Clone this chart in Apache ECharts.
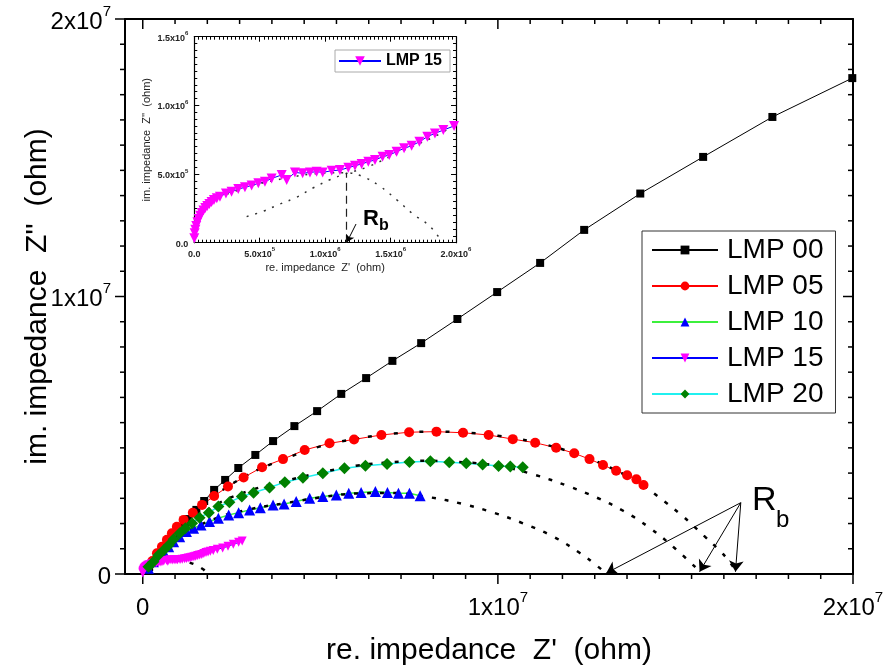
<!DOCTYPE html>
<html>
<head>
<meta charset="utf-8">
<script src="https://cdn.jsdelivr.net/npm/echarts@6/dist/echarts.min.js"></script>
<style>
  html, body { margin: 0; padding: 0; background: #fff; }
  #chart { width: 883px; height: 670px; }
</style>
</head>
<body>
<div id="chart"></div>
<script>
var FONT = '"Liberation Sans", Arial, sans-serif'

// all values in 10^6 ohm, pairs are [Z', Z'']
var lmp00 = [
  [0.07, 0.11], [0.18, 0.25], [0.32, 0.47], [0.49, 0.76], [0.69, 1.05], [0.89, 1.37],
  [1.08, 1.69], [1.28, 1.98], [1.51, 2.31], [1.73, 2.63], [2.01, 3.03], [2.32, 3.39],
  [2.69, 3.82], [3.17, 4.29], [3.67, 4.79], [4.27, 5.33], [4.91, 5.87], [5.59, 6.49],
  [6.29, 7.06], [7.03, 7.68], [7.84, 8.32], [8.86, 9.19], [9.98, 10.16], [11.19, 11.21],
  [12.43, 12.40], [14.01, 13.71], [15.78, 15.03], [17.73, 16.47], [19.98, 17.87]
]
var lmp05 = [
  [0.13, 0.22], [0.27, 0.47], [0.40, 0.75], [0.54, 0.98], [0.68, 1.23], [0.82, 1.47],
  [0.96, 1.70], [1.15, 1.95], [1.41, 2.21], [1.67, 2.49], [2.01, 2.81], [2.40, 3.15],
  [2.84, 3.48], [3.36, 3.85], [3.95, 4.14], [4.56, 4.47], [5.26, 4.71], [5.95, 4.85],
  [6.72, 5.01], [7.50, 5.11], [8.27, 5.13], [9.02, 5.09], [9.74, 5.01], [10.42, 4.86],
  [11.05, 4.73], [11.64, 4.55], [12.15, 4.35], [12.58, 4.14], [12.96, 3.93], [13.33, 3.72],
  [13.64, 3.56], [13.90, 3.41], [14.10, 3.21]
]
var lmp10 = [
  [0.16, 0.21], [0.30, 0.44], [0.44, 0.62], [0.59, 0.80], [0.73, 0.98], [0.87, 1.16],
  [1.04, 1.34], [1.23, 1.53], [1.43, 1.65], [1.64, 1.77], [1.88, 1.89], [2.13, 2.01],
  [2.42, 2.13], [2.70, 2.21], [3.01, 2.31], [3.31, 2.39], [3.67, 2.49], [3.98, 2.52],
  [4.32, 2.61], [4.70, 2.73], [5.07, 2.79], [5.45, 2.85], [5.80, 2.91], [6.15, 2.94],
  [6.55, 2.97], [6.89, 2.94], [7.20, 2.91], [7.51, 2.91], [7.81, 2.82]
]
var lmp15 = [
  [0.000, 0.032], [0.003, 0.068], [0.008, 0.095], [0.015, 0.122], [0.024, 0.148],
  [0.034, 0.172], [0.045, 0.196], [0.057, 0.216], [0.070, 0.235], [0.084, 0.252],
  [0.099, 0.268], [0.115, 0.282], [0.132, 0.297], [0.150, 0.311], [0.172, 0.323],
  [0.196, 0.335], [0.242, 0.359], [0.285, 0.371], [0.336, 0.391], [0.387, 0.403],
  [0.438, 0.417], [0.489, 0.432], [0.540, 0.444], [0.591, 0.468], [0.668, 0.493],
  [0.706, 0.456], [0.769, 0.512], [0.828, 0.505], [0.884, 0.512], [0.935, 0.517],
  [0.981, 0.512], [1.050, 0.524], [1.113, 0.529], [1.177, 0.546], [1.228, 0.561],
  [1.279, 0.573], [1.330, 0.590], [1.381, 0.602], [1.439, 0.626], [1.490, 0.638],
  [1.546, 0.663], [1.603, 0.687], [1.661, 0.706], [1.720, 0.735], [1.781, 0.772],
  [1.839, 0.796], [1.903, 0.820], [1.985, 0.850]
]
// the part of LMP 15 that only shows in the big plot
var lmp15Tail = [[2.10, 0.89], [2.25, 0.94], [2.40, 1.00], [2.55, 1.07], [2.70, 1.14], [2.80, 1.19]]
var lmp20 = [
  [0.16, 0.26], [0.30, 0.44], [0.44, 0.68], [0.59, 0.86], [0.73, 1.04], [0.87, 1.25],
  [1.04, 1.47], [1.20, 1.65], [1.39, 1.83], [1.60, 2.03], [1.86, 2.21], [2.13, 2.43],
  [2.44, 2.59], [2.79, 2.79], [3.12, 2.93], [3.57, 3.12], [4.00, 3.31], [4.51, 3.47],
  [5.07, 3.63], [5.68, 3.81], [6.27, 3.90], [6.88, 3.96], [7.51, 4.04], [8.10, 4.06],
  [8.63, 4.03], [9.11, 3.99], [9.57, 3.95], [10.02, 3.89], [10.35, 3.87], [10.70, 3.85]
]

// dotted fit arcs
var fit05 = [
  [0, 0], [0.4, 0.75], [1.0, 1.75], [2.0, 2.8], [3.0, 3.6], [4.0, 4.15], [5.0, 4.6],
  [6.0, 4.87], [7.0, 5.05], [8.0, 5.13], [9.0, 5.1], [10.0, 4.98], [11.0, 4.76],
  [12.0, 4.42], [13.0, 3.93], [14.0, 3.27], [14.5, 2.8], [15.2, 2.09], [15.8, 1.38],
  [16.2, 0.9], [16.5, 0.48], [16.7, 0.1]
]
var fit20 = [
  [0, 0], [0.4, 0.65], [1.0, 1.45], [2.0, 2.45], [3.0, 3.0], [4.0, 3.35], [5.0, 3.65],
  [6.0, 3.9], [7.0, 4.03], [8.0, 4.08], [9.0, 4.03], [10.0, 3.9], [11.05, 3.57],
  [11.95, 3.18], [12.77, 2.76], [13.54, 2.27], [14.29, 1.65], [14.99, 0.92], [15.6, 0.2]
]
var fit10 = [
  [0, 0], [0.4, 0.6], [1.0, 1.3], [2.0, 1.98], [3.0, 2.33], [4.0, 2.55], [5.0, 2.76],
  [6.0, 2.9], [7.0, 2.92], [8.1, 2.76], [9.02, 2.52], [9.88, 2.21], [10.72, 1.82],
  [11.57, 1.34], [12.32, 0.75], [12.7, 0.39], [13.02, 0.05]
]
var fit15 = [[0, 0], [0.2, 0.3], [0.5, 0.45], [0.87, 0.5], [1.32, 0.41], [1.7, 0.17], [1.82, 0]]

// inset fits
var insetArc1 = [
  [0, 0], [0.05, 0.2], [0.15, 0.31], [0.3, 0.37], [0.5, 0.43], [0.7, 0.47], [0.9, 0.5],
  [1.16, 0.51], [1.29, 0.48], [1.42, 0.41], [1.55, 0.31], [1.67, 0.21], [1.80, 0.12], [1.89, 0.01]
]
var insetArc2 = [
  [0.40, 0.19], [0.53, 0.23], [0.65, 0.28], [0.78, 0.33], [0.91, 0.40], [1.04, 0.46],
  [1.15, 0.50], [1.32, 0.55], [1.57, 0.66], [1.83, 0.77], [1.98, 0.85]
]

// Rb arrows: [from, to]
var rbArrows = [
  [[16.84, 2.57], [13.05, 0.03]],
  [[16.84, 2.57], [15.68, 0.08]],
  [[16.84, 2.57], [16.69, 0.08]]
]
var insetRb = 1.16
var insetArrow = [[1.236, 0.136], [1.167, 0.005]]

var names = ['LMP 00', 'LMP 05', 'LMP 10', 'LMP 15', 'LMP 20']
var mainTicks = [0, 10, 20]
// 10 small ticks between the big ones
var mainMinor = []
for (var k = 1; k < 22; k++) {
  if (k !== 11) mainMinor.push(k * 10 / 11)
}

// tick marks of the main frame: [value, side, length], side 0 bottom, 1 top, 2 left, 3 right
var frameTicks = []
for (var side = 0; side < 4; side++) {
  mainTicks.forEach(function (v) { frameTicks.push([v, side, 10]) })
  mainMinor.forEach(function (v) { frameTicks.push([v, side, 5]) })
}

function mainLabel(v) {
  if (v < 0) return ''
  if (v === 0) return '{a|0}'
  return '{a|' + (v / 10) + 'x10}{s|7}'
}
function insetLabel(v) {
  if (v === 0) return '{a|0.0}'
  if (v < 1) return '{a|' + (v * 10).toFixed(1) + 'x10}{s|5}'
  return '{a|' + v.toFixed(1) + 'x10}{s|6}'
}

var mainRich = {
  a: { fontSize: 24, fontFamily: FONT, color: '#000', lineHeight: 30, verticalAlign: 'bottom' },
  s: { fontSize: 15, fontFamily: FONT, color: '#000', lineHeight: 17, verticalAlign: 'top' }
}
var insetRich = {
  a: { fontSize: 9, fontWeight: 'bold', fontFamily: FONT, color: '#222', lineHeight: 12, verticalAlign: 'bottom' },
  s: { fontSize: 6, fontWeight: 'bold', fontFamily: FONT, color: '#222', lineHeight: 7, verticalAlign: 'top' }
}

function mainAxis(pos, range, opts) {
  var isX = pos === 'top' || pos === 'bottom'
  var a = {
    gridIndex: 0, type: 'value', position: pos, min: range[0], max: range[1],
    axisLine: { show: true, onZero: false, lineStyle: { color: '#000', width: 2 } },
    axisTick: { show: false },
    axisLabel: { show: false },
    splitLine: { show: false }
  }
  if (isX) a.splitNumber = 2
  else a.interval = 10
  return Object.assign(a, opts || {})
}
function insetAxis(pos, max, opts) {
  var a = {
    gridIndex: 1, type: 'value', position: pos, min: 0, max: max, interval: 0.5,
    axisLine: { show: true, onZero: false, lineStyle: { color: '#000', width: 1.2 } },
    axisTick: { show: true, inside: true, length: 5, lineStyle: { color: '#000', width: 1 } },
    minorTick: { show: true, splitNumber: pos === 'top' || pos === 'bottom' ? 16 : 10, length: 3, lineStyle: { color: '#000', width: 1 } },
    axisLabel: { show: false },
    splitLine: { show: false }
  }
  return Object.assign(a, opts || {})
}

// draws one frame tick through the axes' own scales
function renderTick(params, api) {
  var v = api.value(0)
  var side = api.value(1)
  var len = api.value(2)
  var p, q
  if (side === 0) { p = api.coord([v, 0]); q = [p[0], p[1] + len] }
  else if (side === 1) { p = api.coord([v, 20]); q = [p[0], p[1] + len] }
  else if (side === 2) { p = api.coord([-0.5, v]); q = [p[0] - len, p[1]] }
  else { p = api.coord([20, v]); q = [p[0] - len, p[1]] }
  if (side === 0 && v > 20) return
  return {
    type: 'line',
    shape: { x1: p[0], y1: p[1], x2: q[0], y2: q[1] },
    style: { stroke: '#000', lineWidth: 1.5 }
  }
}

var mychart = echarts.init(document.getElementById('chart'))

var option = {
  animation: false,
  grid: [
    { left: 125, top: 19, width: 728, height: 555, outerBoundsMode: 'none' },
    { left: 194.3, top: 36.7, width: 261.7, height: 206, outerBoundsMode: 'none' }
  ],
  xAxis: [
    mainAxis('bottom', [-0.5, 20], {
      axisLabel: { show: true, customValues: mainTicks, margin: 16, formatter: mainLabel, rich: mainRich },
      name: "re. impedance  Z'  (ohm)", nameLocation: 'middle', nameGap: 62, nameMoveOverlap: false,
      nameTextStyle: { fontSize: 30, fontFamily: FONT, color: '#000' }
    }),
    mainAxis('top', [-0.5, 20]),
    insetAxis('bottom', 2, {
      axisLabel: { show: true, margin: 4, formatter: insetLabel, rich: insetRich },
      name: "re. impedance  Z'  (ohm)", nameLocation: 'middle', nameGap: 20, nameMoveOverlap: false,
      nameTextStyle: { fontSize: 11, fontFamily: FONT, color: '#222' }
    }),
    insetAxis('top', 2)
  ],
  yAxis: [
    mainAxis('left', [0, 20], {
      axisLabel: { show: true, margin: 14, formatter: mainLabel, rich: mainRich },
      name: "im. impedance  Z''  (ohm)", nameLocation: 'middle', nameGap: 72, nameMoveOverlap: false,
      nameTextStyle: { fontSize: 30, fontFamily: FONT, color: '#000' }
    }),
    mainAxis('right', [0, 20]),
    insetAxis('left', 1.5, {
      axisLabel: { show: true, margin: 6, formatter: insetLabel, rich: insetRich },
      name: "im. impedance  Z''  (ohm)", nameLocation: 'middle', nameGap: 42, nameMoveOverlap: false,
      nameTextStyle: { fontSize: 11, fontFamily: FONT, color: '#222' }
    }),
    insetAxis('right', 1.5)
  ],
  legend: [
    {
      data: names, orient: 'vertical', left: 642, top: 231, selectedMode: false,
      itemWidth: 66, itemHeight: 11, itemGap: 6,
      borderColor: '#333', borderWidth: 1, padding: [4, 12, 4, 9],
      textStyle: { fontSize: 28, fontFamily: FONT, color: '#000', lineHeight: 30, padding: [0, 0, 0, 4] }
    },
    {
      data: ['LMP 15'], left: 335, top: 50, selectedMode: false,
      itemWidth: 42, itemHeight: 12,
      borderColor: '#aaa', borderWidth: 1, padding: [3, 8, 3, 3],
      textStyle: { fontSize: 16, fontWeight: 'bold', fontFamily: FONT, color: '#000', lineHeight: 16 }
    }
  ],
  series: [
    {
      name: 'frame ticks', type: 'custom', xAxisIndex: 0, yAxisIndex: 0, data: frameTicks,
      renderItem: renderTick, silent: true, clip: false, z: 1,
      encode: { x: 0, y: -1 }
    },
    {
      name: 'LMP 00', type: 'line', xAxisIndex: 0, yAxisIndex: 0, data: lmp00,
      symbol: 'rect', symbolSize: 8, itemStyle: { color: '#000' }, lineStyle: { color: '#000', width: 1 }
    },
    {
      name: 'LMP 05', type: 'line', xAxisIndex: 0, yAxisIndex: 0, data: lmp05,
      symbol: 'circle', symbolSize: 10, itemStyle: { color: '#ff0000' }, lineStyle: { color: '#ff0000', width: 1 }
    },
    {
      name: 'LMP 10', type: 'line', xAxisIndex: 0, yAxisIndex: 0, data: lmp10,
      symbol: 'triangle', symbolSize: 11, itemStyle: { color: '#0000ff' }, lineStyle: { color: '#3cf03c', width: 1.5 }
    },
    {
      name: 'LMP 15', type: 'line', xAxisIndex: 0, yAxisIndex: 0, data: lmp15.concat(lmp15Tail),
      symbol: 'triangle', symbolRotate: 180, symbolSize: 9, itemStyle: { color: '#ff00ff' }, lineStyle: { color: '#0000ff', width: 1 }
    },
    {
      name: 'LMP 20', type: 'line', xAxisIndex: 0, yAxisIndex: 0, data: lmp20,
      symbol: 'diamond', symbolSize: 12, itemStyle: { color: '#008000' }, lineStyle: { color: '#20f0f0', width: 1.5 }
    },
    {
      name: 'fit 05', type: 'line', xAxisIndex: 0, yAxisIndex: 0, data: fit05, smooth: 0.4,
      symbol: 'none', silent: true, lineStyle: { color: '#000', width: 2.5, type: [4, 9] }
    },
    {
      name: 'fit 20', type: 'line', xAxisIndex: 0, yAxisIndex: 0, data: fit20, smooth: 0.4,
      symbol: 'none', silent: true, lineStyle: { color: '#000', width: 2.5, type: [4, 9] }
    },
    {
      name: 'fit 10', type: 'line', xAxisIndex: 0, yAxisIndex: 0, data: fit10, smooth: 0.4,
      symbol: 'none', silent: true, lineStyle: { color: '#000', width: 2.5, type: [4, 9] },
      markLine: {
        silent: true, symbol: ['none', 'arrow'], symbolSize: 11,
        label: { show: false }, lineStyle: { color: '#000', width: 1, type: 'solid' },
        data: rbArrows.map(function (a) { return [{ coord: a[0] }, { coord: a[1] }] })
      }
    },
    {
      name: 'fit 15', type: 'line', xAxisIndex: 0, yAxisIndex: 0, data: fit15, smooth: 0.4,
      symbol: 'none', silent: true, lineStyle: { color: '#000', width: 2.5, type: [4, 9] }
    },
    // inset
    {
      name: 'LMP 15', type: 'line', xAxisIndex: 2, yAxisIndex: 2, data: lmp15,
      symbol: 'triangle', symbolRotate: 180, symbolSize: 10, itemStyle: { color: '#ff00ff' }, lineStyle: { color: '#0000ff', width: 1 }
    },
    {
      name: 'inset arc 1', type: 'line', xAxisIndex: 2, yAxisIndex: 2, data: insetArc1, smooth: 0.4,
      symbol: 'none', silent: true, lineStyle: { color: '#333', width: 1.5, type: [2, 7] },
      markLine: {
        silent: true, symbol: ['none', 'none'], label: { show: false },
        lineStyle: { color: '#222', width: 1.2, type: [8, 5] },
        data: [[{ coord: [insetRb, 0] }, { coord: [insetRb, 0.51] }]]
      }
    },
    {
      name: 'inset arc 2', type: 'line', xAxisIndex: 2, yAxisIndex: 2, data: insetArc2, smooth: 0.4,
      symbol: 'none', silent: true, lineStyle: { color: '#333', width: 1.5, type: [2, 7] },
      markLine: {
        silent: true, symbol: ['none', 'arrow'], symbolSize: 7, label: { show: false },
        lineStyle: { color: '#000', width: 1, type: 'solid' },
        data: [[{ coord: insetArrow[0] }, { coord: insetArrow[1] }]]
      }
    }
  ],
  graphic: [
    { type: 'text', left: 752, top: 484, style: { text: 'R', font: '34px ' + FONT, fill: '#000' } },
    { type: 'text', left: 776, top: 508, style: { text: 'b', font: '24px ' + FONT, fill: '#000' } },
    { type: 'text', left: 363, top: 208, style: { text: 'R', font: 'bold 22px ' + FONT, fill: '#000' } },
    { type: 'text', left: 379, top: 218, style: { text: 'b', font: 'bold 16px ' + FONT, fill: '#000' } }
  ]
}

option && mychart.setOption(option)
</script>
</body>
</html>
